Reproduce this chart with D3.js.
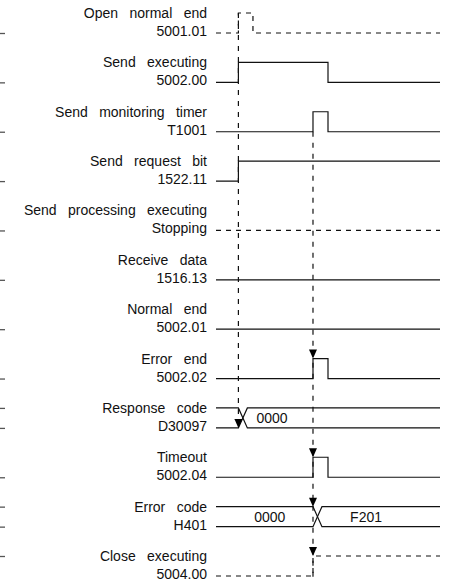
<!DOCTYPE html>
<html>
<head>
<meta charset="utf-8">
<script src="https://d3js.org/d3.v7.min.js"></script>
<style>
    body { margin: 0; background: #fff; }
    svg { display: block; }
    text { font-family: "Liberation Sans", Arial, sans-serif; fill: #111; }
</style>
</head>
<body>
<svg width="451" height="588"></svg>
<script>
// Signal names (two lines each)
const names = ["Open normal end", "Send executing", "Send monitoring timer", "Send request bit",
    "Send processing executing", "Receive data", "Normal end", "Error end", "Response code",
    "Timeout", "Error code", "Close executing"];
const devices = ["5001.01", "5002.00", "T1001", "1522.11", "Stopping", "1516.13",
    "5002.01", "5002.02", "D30097", "5002.04", "H401", "5004.00"];

// Rows drawn dashed
const dashedRows = [0, 4, 11];

// Bit waveforms as [time, level] steps (null = data bus row)
const waves = [
    [[0, 0], [10, 1], [16.5, 0], [100, 0]],
    [[0, 0], [10, 1], [50, 0], [100, 0]],
    [[0, 0], [43.3, 1], [50, 0], [100, 0]],
    [[0, 0], [10, 1], [100, 1]],
    [[0, 0], [100, 0]],
    [[0, 0], [100, 0]],
    [[0, 0], [100, 0]],
    [[0, 0], [43.3, 1], [50, 0], [100, 0]],
    null,
    [[0, 0], [43.3, 1], [50, 0], [100, 0]],
    null,
    [[0, 0], [43.3, 1], [100, 1]]
];

// Data bus rows: where the value changes and the values shown
const busRows = [8, 10];
const busChange = [10, 43.3];
const busValues = [[[25, "0000"]], [[24, "0000"], [67, "F201"]]];

// Dashed guide lines: time, start row/level, end row/level
const guides = [
    { t: 10, from: [0, 1], to: [8, 0] },
    { t: 43.3, from: [2, 0], to: [11, -0.1] }
];
// Arrow heads: time, row, level (tip)
const arrows = [[10, 8, 0], [43.3, 7, 1], [43.3, 9, 1], [43.3, 10, 1], [43.3, 11, 1]];

// Small marks on the left edge: row, level
const leftMarks = [[0, 0], [1, 0], [2, 0], [3, 0], [4, 0], [5, 0], [6, 0], [7, 0], [8, 1], [8, 0],
    [9, 0], [10, 1], [10, 0], [11, 1]];

const svg = d3.select("svg");

// Time scale and row scale
const x = d3.scaleLinear().domain([0, 100]).range([216, 440]);
const row = d3.scalePoint().domain(d3.range(names.length)).range([33, 576]);
const high = 20;
const y = (r, lv) => row(r) - lv * high;

// Left edge marks
svg.selectAll(".lmark")
    .data(leftMarks)
    .enter().append("line")
    .attr("class", "lmark")
    .attr("x1", 0).attr("x2", 5)
    .attr("y1", d => y(d[0], d[1]) + 0.5)
    .attr("y2", d => y(d[0], d[1]) + 0.5)
    .attr("stroke", "#555")
    .attr("stroke-width", 1.3);

// Labels
const label = svg.selectAll(".label")
    .data(names)
    .enter().append("g")
    .attr("class", "label");

label.append("text")
    .attr("x", 207)
    .attr("y", (d, i) => row(i) - 15)
    .attr("text-anchor", "end")
    .style("font-size", "14px")
    .style("word-spacing", "7.5px")
    .text(d => d);

label.append("text")
    .attr("x", 207)
    .attr("y", (d, i) => row(i) + 3)
    .attr("text-anchor", "end")
    .style("font-size", "14px")
    .text((d, i) => devices[i]);

// Bit waveforms
const line = d3.line()
    .x(d => x(d[0]))
    .curve(d3.curveStepAfter);

waves.forEach((w, i) => {
    if (!w) return;
    svg.append("path")
        .attr("d", line.y(d => y(i, d[1]))(w))
        .attr("fill", "none")
        .attr("stroke", "#111")
        .attr("stroke-width", 1.2)
        .attr("stroke-dasharray", dashedRows.includes(i) ? "5,5" : null);
});

// Data bus rows
const cross = 4;
busRows.forEach((r, k) => {
    const t = busChange[k];
    const top = y(r, 1), bot = y(r, 0);
    const p1 = [[x(0), top], [x(t), top], [x(t + cross), bot], [x(100), bot]];
    const p2 = [[x(0), bot], [x(t), bot], [x(t + cross), top], [x(100), top]];
    [p1, p2].forEach(p => {
        svg.append("path")
            .attr("d", d3.line()(p))
            .attr("fill", "none")
            .attr("stroke", "#111")
            .attr("stroke-width", 1.2);
    });
    svg.selectAll(".bus" + k)
        .data(busValues[k])
        .enter().append("text")
        .attr("x", d => x(d[0]))
        .attr("y", (top + bot) / 2 + 5)
        .attr("text-anchor", "middle")
        .style("font-size", "14px")
        .text(d => d[1]);
});

// Dashed guide lines
svg.selectAll(".guide")
    .data(guides)
    .enter().append("line")
    .attr("class", "guide")
    .attr("x1", d => x(d.t)).attr("x2", d => x(d.t))
    .attr("y1", d => y(d.from[0], d.from[1]))
    .attr("y2", d => y(d.to[0], d.to[1]))
    .attr("stroke", "#111")
    .attr("stroke-width", 1.2)
    .attr("stroke-dasharray", "5,6");

// Arrow heads
svg.selectAll(".arrow")
    .data(arrows)
    .enter().append("path")
    .attr("class", "arrow")
    .attr("d", d => {
        const ax = x(d[0]), ay = y(d[1], d[2]);
        return `M${ax - 4},${ay - 9}L${ax + 4},${ay - 9}L${ax},${ay}Z`;
    })
    .attr("fill", "#000");
</script>
</body>
</html>
